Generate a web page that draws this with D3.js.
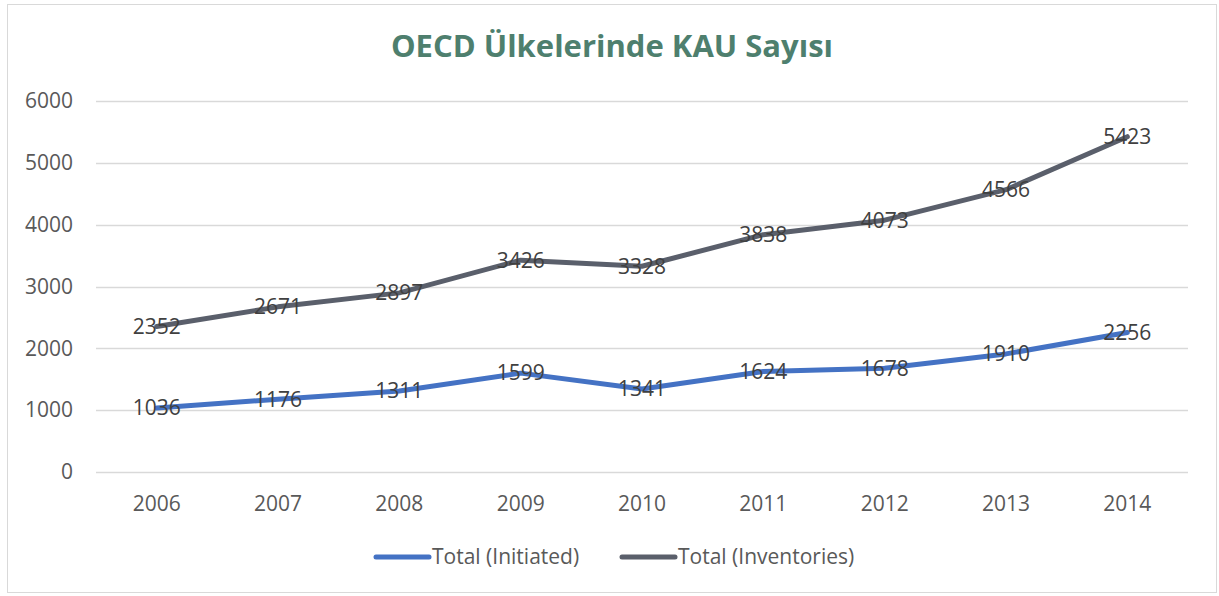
<!DOCTYPE html>
<html>
<head>
<meta charset="utf-8">
<script src="https://cdn.jsdelivr.net/npm/d3@7"></script>
<style>
  body { margin: 0; background: #fff; }
  text { font-family: "Open Sans", sans-serif; }
</style>
</head>
<body>
<svg id="chart" width="1219" height="596"></svg>
<script>
const years = ["2006", "2007", "2008", "2009", "2010", "2011", "2012", "2013", "2014"];
const initiated = [1036, 1176, 1311, 1599, 1341, 1624, 1678, 1910, 2256];
const inventories = [2352, 2671, 2897, 3426, 3328, 3838, 4073, 4566, 5423];
const yTicks = [0, 1000, 2000, 3000, 4000, 5000, 6000];

const series = [
    { name: "Total (Initiated)", values: initiated, color: "#4472c4" },
    { name: "Total (Inventories)", values: inventories, color: "#5a5f6b" }
];

const margin = { top: 101, right: 31, bottom: 124, left: 96 };
const width = 1219 - margin.left - margin.right;
const height = 596 - margin.top - margin.bottom;

const svg = d3.select("#chart");

// outer frame
svg.append("rect")
    .attr("x", 7.5).attr("y", 4.5)
    .attr("width", 1209).attr("height", 588)
    .attr("fill", "none")
    .attr("stroke", "#d9d9d9");

svg.append("text")
    .attr("x", 612).attr("y", 57)
    .attr("text-anchor", "middle")
    .attr("fill", "#4e7f6e")
    .style("font-size", "31px")
    .style("font-weight", "bold")
    .text("OECD Ülkelerinde KAU Sayısı");

const g = svg.append("g").attr("transform", `translate(${margin.left},${margin.top})`);

const x = d3.scaleBand().domain(years).range([0, width]);
const y = d3.scaleLinear().domain([0, 6000]).range([height, 0]);

// gridlines
g.selectAll(".grid")
    .data(yTicks)
    .join("line")
    .attr("x1", 0).attr("x2", width)
    .attr("y1", d => Math.round(y(d)) + 0.5)
    .attr("y2", d => Math.round(y(d)) + 0.5)
    .attr("stroke", "#d9d9d9")
    .attr("stroke-width", 1.3);

const yAxis = g.append("g")
    .call(d3.axisLeft(y).tickValues(yTicks).tickFormat(d3.format("d")).tickSize(0).tickPadding(23));
yAxis.select(".domain").remove();
yAxis.selectAll("text")
    .attr("fill", "#595959")
    .style("font-size", "21px")
    .style("font-family", "'Open Sans', sans-serif");

const xAxis = g.append("g")
    .attr("transform", `translate(0,${height})`)
    .call(d3.axisBottom(x).tickSize(0).tickPadding(24));
xAxis.select(".domain").remove();
xAxis.selectAll("text")
    .attr("fill", "#595959")
    .style("font-size", "21px")
    .style("font-family", "'Open Sans', sans-serif");

const line = d3.line()
    .x((d, i) => x(years[i]) + x.bandwidth() / 2)
    .y(d => y(d));

series.forEach(s => {
    g.append("path")
        .datum(s.values)
        .attr("fill", "none")
        .attr("stroke", s.color)
        .attr("stroke-width", 5)
        .attr("stroke-linecap", "round")
        .attr("stroke-linejoin", "round")
        .attr("d", line);

    g.selectAll(null)
        .data(s.values)
        .join("text")
        .attr("x", (d, i) => x(years[i]) + x.bandwidth() / 2)
        .attr("y", d => y(d))
        .attr("dy", "0.35em")
        .attr("text-anchor", "middle")
        .attr("fill", "#404040")
        .style("font-size", "21px")
        .text(d => d);
});

// legend
const legend = svg.append("g").attr("transform", "translate(0,557)");
const legendX = [376, 622];
series.forEach((s, i) => {
    legend.append("line")
        .attr("x1", legendX[i]).attr("x2", legendX[i] + 53)
        .attr("y1", 0).attr("y2", 0)
        .attr("stroke", s.color)
        .attr("stroke-width", 5)
        .attr("stroke-linecap", "round");
    legend.append("text")
        .attr("x", legendX[i] + 56)
        .attr("y", 0)
        .attr("dy", "0.35em")
        .attr("fill", "#595959")
        .style("font-size", "21px")
        .text(s.name);
});
</script>
</body>
</html>
